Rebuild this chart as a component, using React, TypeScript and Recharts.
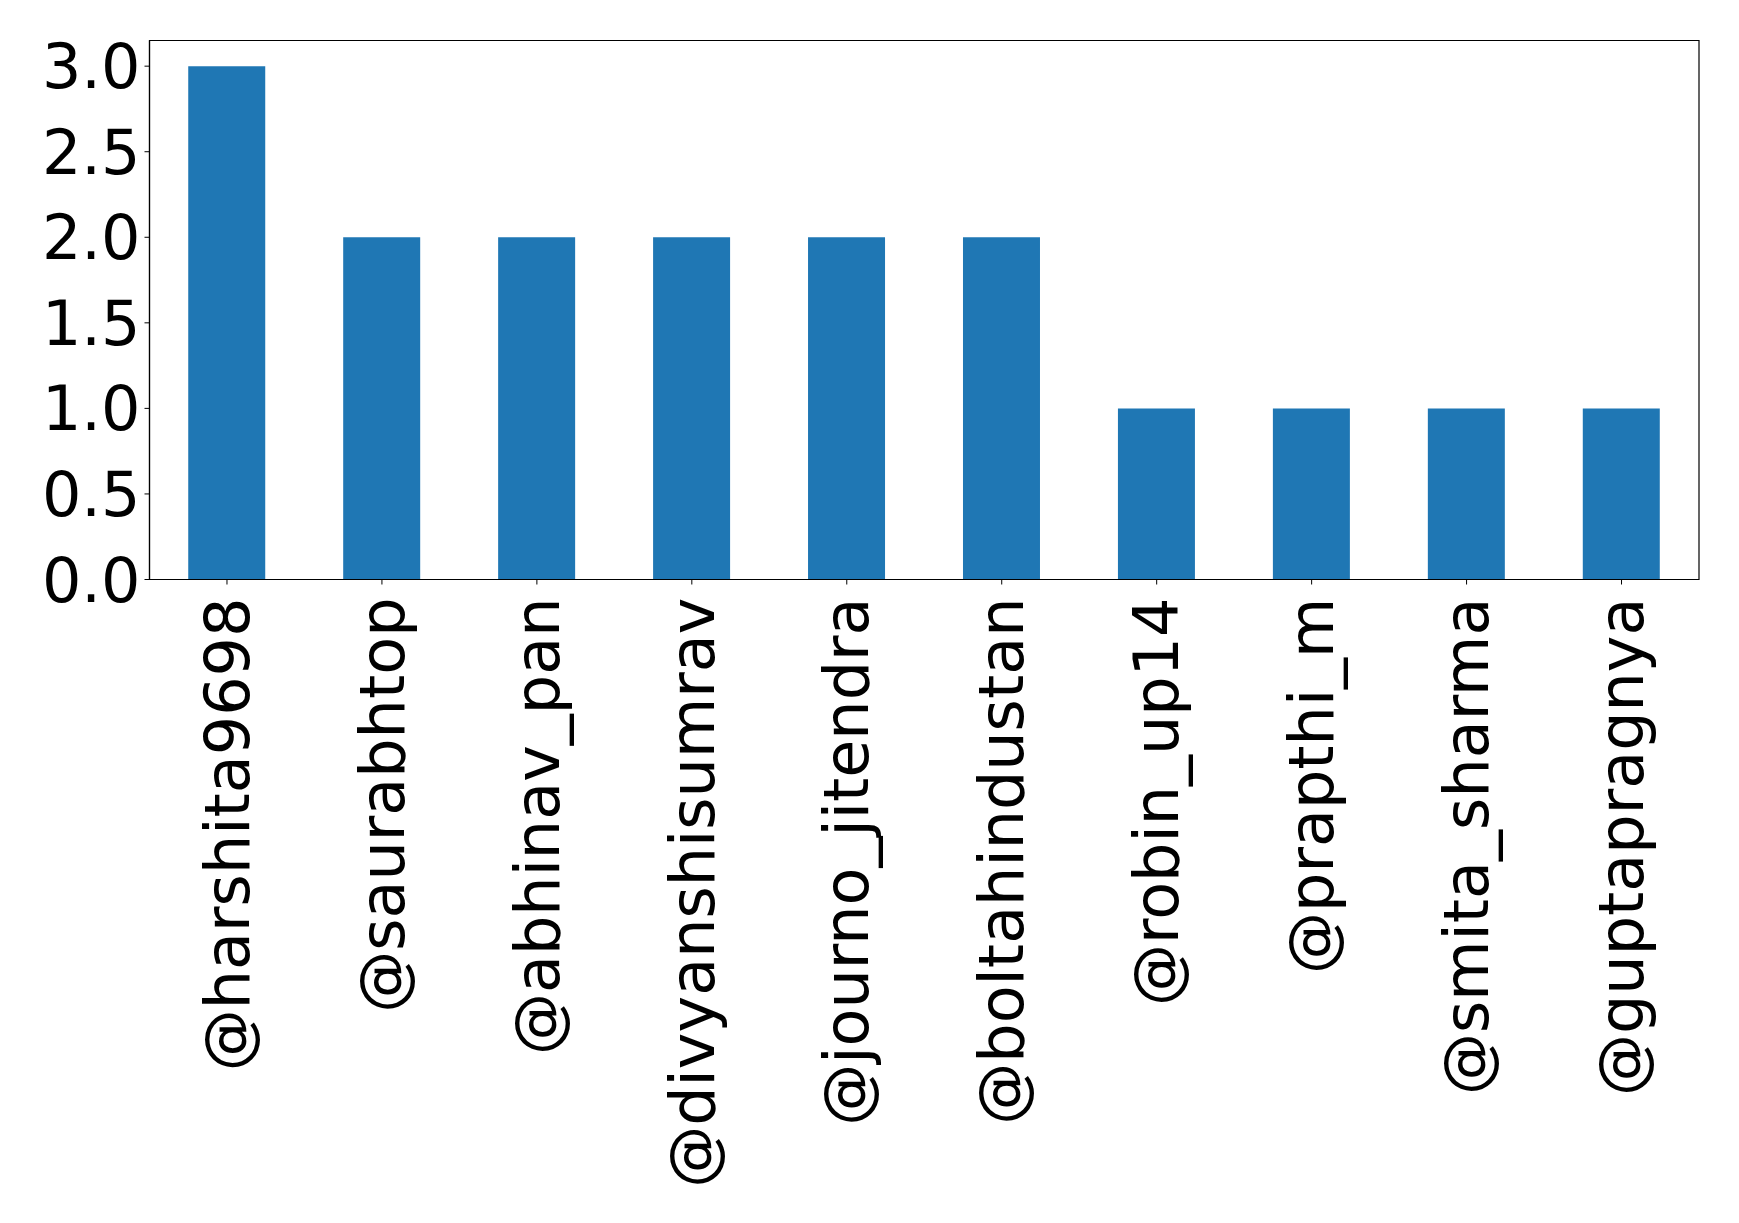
import { Bar, BarChart, ReferenceArea, XAxis, YAxis } from "recharts";

const handles = [
  "@harshita9698",
  "@saurabhtop",
  "@abhinav_pan",
  "@divyanshisumrav",
  "@journo_jitendra",
  "@boltahindustan",
  "@robin_up14",
  "@prapthi_m",
  "@smita_sharma",
  "@guptapragnya",
];
const counts = [3, 2, 2, 2, 2, 2, 1, 1, 1, 1];
const yTicks = [0, 0.5, 1, 1.5, 2, 2.5, 3];
const yMax = 3.15;

const data = handles.map((name, i) => ({ name, count: counts[i] }));

const FONT = "'DejaVu Sans', sans-serif";

function HandleTick(props: any) {
  const { x, y, payload } = props;
  const ty = y + 11;
  return (
    <text
      x={x}
      y={ty}
      dy="0.35em"
      transform={`rotate(-90, ${x}, ${ty})`}
      textAnchor="end"
      fill="#000"
      fontSize={62}
      fontFamily={FONT}
    >
      {payload.value}
    </text>
  );
}

export default function App() {
  return (
    <div style={{ position: "absolute", left: 0, top: 0, background: "#fff" }}>
      <BarChart
        width={1739}
        height={1223}
        data={data}
        margin={{ top: 40.5, right: 40, left: 0, bottom: 0 }}
        barCategoryGap="25%"
      >
        <XAxis
          dataKey="name"
          height={643.5}
          interval={0}
          tick={<HandleTick />}
          tickSize={5}
          tickMargin={2}
          stroke="#000"
          axisLine={{ stroke: "#000", strokeWidth: 1.2 }}
          tickLine={{ stroke: "#000", strokeWidth: 1 }}
        />
        <YAxis
          width={149.5}
          domain={[0, yMax]}
          ticks={yTicks}
          interval={0}
          tickFormatter={(v: number) => v.toFixed(1)}
          tickSize={5}
          tickMargin={4}
          stroke="#000"
          tick={{ fill: "#000", fontSize: 62, fontFamily: FONT }}
          axisLine={{ stroke: "#000", strokeWidth: 1.2 }}
          tickLine={{ stroke: "#000", strokeWidth: 1 }}
        />
        <Bar dataKey="count" fill="#1f77b4" isAnimationActive={false} />
        <ReferenceArea
          y1={0}
          y2={yMax}
          fill="none"
          fillOpacity={0}
          stroke="#000"
          strokeWidth={1.2}
          strokeOpacity={1}
          ifOverflow="visible"
        />
      </BarChart>
    </div>
  );
}
